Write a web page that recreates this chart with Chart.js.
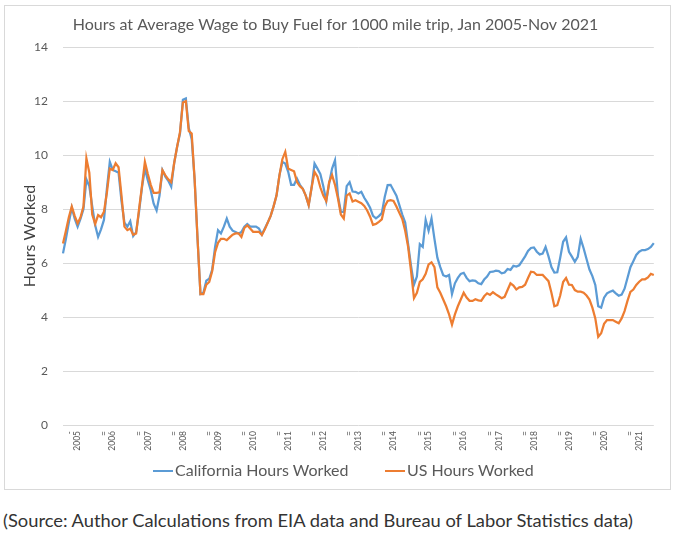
<!DOCTYPE html>
<html>
<head>
<meta charset="utf-8">
<script src="https://cdn.jsdelivr.net/npm/chart.js@4.4.1/dist/chart.umd.min.js"></script>
<style>
  html, body { margin: 0; padding: 0; background: #ffffff; }
  body { width: 680px; height: 542px; position: relative; overflow: hidden; }
  #frame { position: absolute; left: 4px; top: 5px; width: 667px; height: 485px; border: 1px solid #d9d9d9; box-sizing: border-box; }
  #wrap { position: absolute; left: 5px; top: 6px; width: 665px; height: 483px; }
  #legend { position: absolute; left: 0; top: 460px; width: 680px; height: 22px; font-family: Lato, sans-serif; font-size: 16px; color: #595959; }
  #legend .item { position: absolute; top: 0; white-space: nowrap; line-height: 20px; }
  #legend .swatch { display: inline-block; width: 20px; height: 2.5px; vertical-align: middle; margin-right: 2px; position: relative; top: -1px; }
  #source { position: absolute; left: 3px; top: 509px; font-family: Lato, sans-serif; font-size: 18px; color: #333333; white-space: nowrap; transform-origin: 0 0; }
</style>
</head>
<body>
<div id="frame"></div>
<div id="wrap"><canvas id="c"></canvas></div>
<div id="legend"></div>
<div id="source">(Source: Author Calculations from EIA data and Bureau of Labor Statistics data)</div>
<script>
// ---- data ----
const chartTitle = 'Hours at Average Wage to Buy Fuel for 1000 mile trip, Jan 2005-Nov 2021';
const yAxisTitle = 'Hours Worked';
const years = ['2005','2006','2007','2008','2009','2010','2011','2012','2013','2014','2015','2016','2017','2018','2019','2020','2021'];
const months = ['Jan','Feb','Mar','Apr','May','Jun','Jul','Aug','Sep','Oct','Nov','Dec'];
const seriesNames = ['California Hours Worked', 'US Hours Worked'];

const californiaHours = [
  6.36, 6.9, 7.5, 8.05, 7.65, 7.35, 7.65, 8.0, 9.1, 8.85, 8.1, 7.4,
  6.97, 7.25, 7.6, 8.75, 9.75, 9.45, 9.4, 9.35, 8.3, 7.5, 7.35, 7.55,
  7.0, 7.15, 7.9, 8.8, 9.5, 9.07, 8.7, 8.2, 7.95, 8.5, 9.44, 9.2,
  9.05, 8.83, 9.7, 10.3, 10.8, 12.05, 12.1, 11.0, 10.6, 9.1, 6.9, 4.85,
  4.9, 5.35, 5.42, 5.75, 6.6, 7.22, 7.1, 7.35, 7.65, 7.35, 7.2, 7.15,
  7.1, 7.15, 7.35, 7.45, 7.35, 7.35, 7.35, 7.28, 7.06, 7.28, 7.5, 7.75,
  8.1, 8.5, 9.25, 9.75, 9.69, 9.38, 8.9, 8.9, 9.13, 8.9, 8.75, 8.5,
  8.15, 8.8, 9.69, 9.5, 9.3, 8.85, 8.3, 8.95, 9.5, 9.81, 8.5, 7.9,
  7.9, 8.85, 9.0, 8.65, 8.64, 8.58, 8.64, 8.42, 8.25, 8.05, 7.75, 7.66,
  7.74, 7.85, 8.45, 8.89, 8.9, 8.7, 8.5, 8.15, 7.8, 7.5, 6.7, 5.9,
  5.2, 5.5, 6.7, 6.6, 7.6, 7.2, 7.65, 6.9, 6.2, 5.85, 5.55, 5.5,
  5.56, 4.85, 5.25, 5.45, 5.6, 5.64, 5.45, 5.33, 5.36, 5.34, 5.25, 5.22,
  5.39, 5.5, 5.67, 5.68, 5.72, 5.7, 5.62, 5.65, 5.78, 5.75, 5.9, 5.87,
  5.92, 6.08, 6.25, 6.45, 6.56, 6.58, 6.42, 6.32, 6.35, 6.6, 6.25, 5.85,
  5.65, 5.66, 6.2, 6.79, 6.95, 6.42, 6.24, 6.05, 6.23, 6.9, 6.55, 6.15,
  5.76, 5.52, 5.19, 4.4, 4.35, 4.72, 4.88, 4.94, 4.98, 4.88, 4.79, 4.83,
  5.05, 5.45, 5.85, 6.07, 6.3, 6.42, 6.48, 6.48, 6.52, 6.6, 6.74
];

const usHours = [
  6.73, 7.2, 7.7, 8.1, 7.75, 7.47, 7.7, 8.1, 9.88, 9.35, 7.8, 7.45,
  7.78, 7.7, 7.9, 8.6, 9.5, 9.45, 9.7, 9.55, 8.5, 7.35, 7.22, 7.28,
  7.05, 7.1, 8.0, 8.85, 9.75, 9.3, 8.9, 8.6, 8.6, 8.62, 9.44, 9.25,
  9.1, 9.0, 9.7, 10.3, 10.85, 11.95, 12.0, 10.9, 10.8, 9.1, 6.9, 4.85,
  4.85, 5.2, 5.3, 5.7, 6.4, 6.75, 6.9, 6.9, 6.85, 6.95, 7.05, 7.1,
  7.1, 6.97, 7.3, 7.4, 7.28, 7.16, 7.16, 7.16, 7.04, 7.25, 7.5, 7.75,
  8.1, 8.5, 9.25, 9.85, 10.12, 9.5, 9.45, 9.4, 9.0, 8.85, 8.75, 8.5,
  8.15, 8.8, 9.38, 9.2, 8.8, 8.5, 8.3, 9.0, 9.26, 8.9, 8.4, 7.8,
  7.65, 8.5, 8.58, 8.28, 8.33, 8.27, 8.22, 8.12, 7.95, 7.72, 7.42, 7.45,
  7.53, 7.62, 8.1, 8.3, 8.33, 8.3, 8.1, 7.86, 7.63, 7.2, 6.6, 5.7,
  4.7, 4.9, 5.3, 5.4, 5.6, 5.95, 6.03, 5.85, 5.1, 4.9, 4.65, 4.4,
  4.1, 3.72, 4.1, 4.4, 4.65, 4.9, 4.72, 4.6, 4.6, 4.66, 4.62, 4.6,
  4.77, 4.88, 4.82, 4.92, 4.84, 4.77, 4.7, 4.75, 5.0, 5.25, 5.17, 5.02,
  5.1, 5.12, 5.2, 5.45, 5.68, 5.66, 5.56, 5.56, 5.56, 5.45, 5.33, 4.9,
  4.4, 4.44, 4.8, 5.3, 5.45, 5.2, 5.19, 5.0, 4.94, 4.94, 4.9, 4.8,
  4.65, 4.35, 3.95, 3.27, 3.4, 3.75, 3.89, 3.89, 3.89, 3.83, 3.77, 3.95,
  4.22, 4.6, 4.93, 5.02, 5.19, 5.31, 5.4, 5.4, 5.47, 5.6, 5.56
];

// ---- categories built from the arrays ----
const categories = [];
years.forEach(y => months.forEach(m => categories.push(m + ' ' + y)));
categories.length = californiaHours.length;

const grey = '#595959';
const colors = ['#5b9bd5', '#ed7d31'];

const chart = new Chart(document.getElementById('c'), {
  type: 'line',
  data: {
    labels: categories,
    datasets: [
      { label: seriesNames[0], data: californiaHours, borderColor: colors[0], backgroundColor: colors[0],
        borderWidth: 2.25, pointRadius: 0, tension: 0, order: 1 },
      { label: seriesNames[1], data: usHours, borderColor: colors[1], backgroundColor: colors[1],
        borderWidth: 2.25, pointRadius: 0, tension: 0, order: 0 }
    ]
  },
  options: {
    responsive: true,
    maintainAspectRatio: false,
    animation: false,
    layout: { padding: { left: 0, right: 4, top: 0, bottom: 0 } },
    plugins: {
      title: { display: true, text: chartTitle, color: grey,
               font: { family: 'Lato', size: 16, weight: 'normal' }, padding: { top: 9, bottom: 13 } },
      legend: { display: false },
      tooltip: { enabled: false }
    },
    scales: {
      x: {
        grid: { display: false, drawTicks: false },
        border: { display: false },
        afterFit: s => { s.height = 64; },
        ticks: {
          autoSkip: false, maxRotation: 90, minRotation: 90, padding: 6,
          color: grey, font: { family: 'Lato', size: 8.5 },
          callback: function (v, i) {
            const m = i % 12;
            if (m === 5) return years[Math.floor(i / 12)];
            if (m === 2) return i < 12 ? '-' : '=';
            return '';
          }
        }
      },
      y: {
        min: 0, max: 14,
        afterFit: s => { s.width = 58; },
        grid: { color: '#d9d9d9', lineWidth: 1, drawTicks: false },
        border: { display: false },
        ticks: { stepSize: 2, padding: 15, color: grey, font: { family: 'Lato', size: 12 } },
        title: { display: true, text: yAxisTitle, color: '#404040',
                 font: { family: 'Lato', size: 16 }, padding: { top: 15, bottom: 0 } }
      }
    }
  }
});

// HTML legend generated from the chart's datasets
const legendEl = document.getElementById('legend');
const legendLeft = [153, 385];
chart.data.datasets.forEach((ds, i) => {
  const item = document.createElement('div');
  item.className = 'item';
  item.style.left = legendLeft[i] + 'px';
  const sw = document.createElement('span');
  sw.className = 'swatch';
  sw.style.background = ds.borderColor;
  item.appendChild(sw);
  item.appendChild(document.createTextNode(ds.label));
  legendEl.appendChild(item);
});

// fit source line to the reference width
const src = document.getElementById('source');
const w = src.getBoundingClientRect().width;
src.style.transform = 'scaleX(' + (630 / w) + ')';
</script>
</body>
</html>
